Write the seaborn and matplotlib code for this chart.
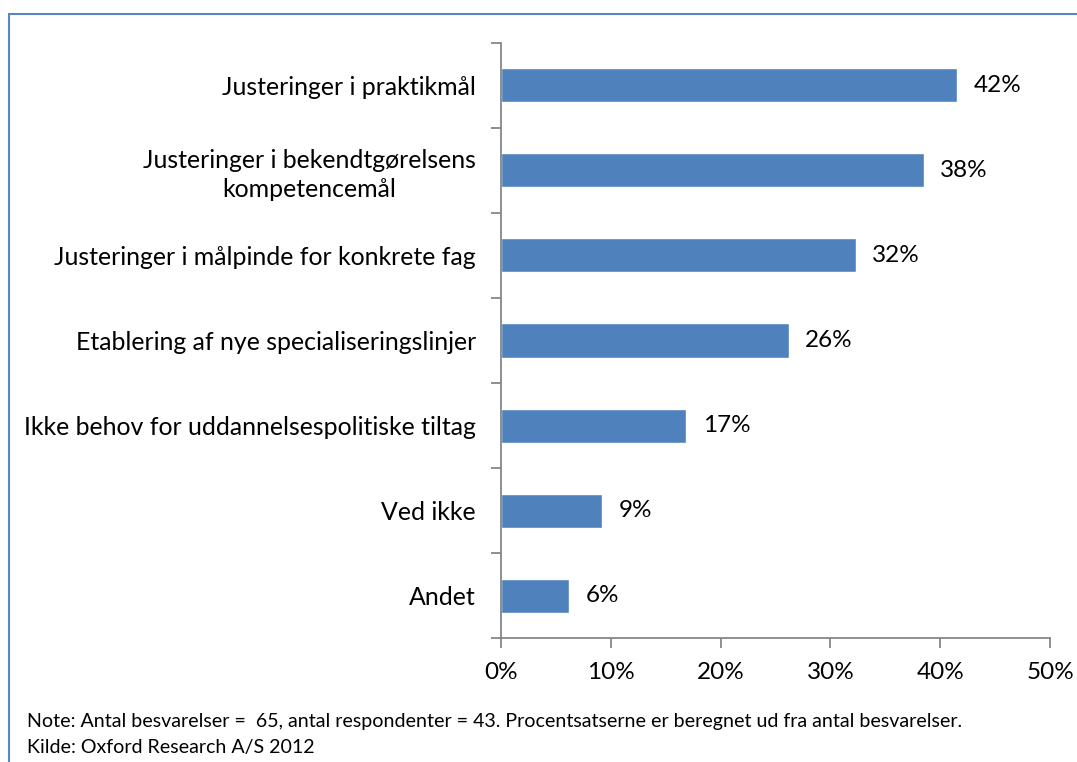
import matplotlib
matplotlib.use("Agg")
import matplotlib.pyplot as plt
import seaborn as sns
import pandas as pd
from matplotlib.lines import Line2D

# chart data
categories = [
    "Justeringer i praktikmål",
    "Justeringer i bekendtgørelsens\nkompetencemål",
    "Justeringer i målpinde for konkrete fag",
    "Etablering af nye specialiseringslinjer",
    "Ikke behov for uddannelsespolitiske tiltag",
    "Ved ikke",
    "Andet",
]
shares = [41.5, 38.5, 32.3, 26.2, 16.9, 9.2, 6.2]
value_labels = ["42%", "38%", "32%", "26%", "17%", "9%", "6%"]
x_ticks = [0, 10, 20, 30, 40, 50]
x_tick_labels = ["0%", "10%", "20%", "30%", "40%", "50%"]
note_lines = [
    "Note: Antal besvarelser =  65, antal respondenter = 43. Procentsatserne er beregnet ud fra antal besvarelser.",
    "Kilde: Oxford Research A/S 2012",
]

sns.set_style("white")
plt.rcParams["font.family"] = ["Lato", "DejaVu Sans"]
plt.rcParams["text.color"] = "black"
plt.rcParams["xtick.color"] = "black"
plt.rcParams["ytick.color"] = "black"

df = pd.DataFrame({"kategori": categories, "andel": shares})

fig = plt.figure(figsize=(10.77, 7.62), dpi=100)
ax = fig.add_axes([0.465, 0.1627, 0.975 - 0.465, 0.9436 - 0.1627])

sns.barplot(data=df, x="andel", y="kategori", orient="h", color="#4F81BD",
            saturation=1, width=0.4, ax=ax)

ax.set_xlim(0, 50)
ax.set_ylim(len(categories) - 0.5, -0.5)
ax.set_xticks(x_ticks)
ax.set_xticklabels(x_tick_labels)
ax.set_xlabel("")
ax.set_ylabel("")

# value labels
ax.bar_label(ax.containers[0], labels=value_labels, padding=12, fontsize=17.5, color="black")

# axis styling like Excel
for side in ["top", "right"]:
    ax.spines[side].set_visible(False)
for side in ["left", "bottom"]:
    ax.spines[side].set_color("#868686")
    ax.spines[side].set_linewidth(1.3)

ax.set_yticks([i - 0.5 for i in range(len(categories) + 1)], minor=True)
ax.tick_params(axis="y", which="minor", length=7, width=1.3, color="#868686", left=True)
ax.tick_params(axis="y", which="major", length=0, pad=18, labelsize=17.9, labelcolor="black")
ax.tick_params(axis="x", which="major", length=7, width=1.3, color="#868686",
               bottom=True, pad=10, labelsize=17.5, labelcolor="black")
for lbl in ax.get_yticklabels():
    lbl.set_horizontalalignment("right")
    lbl.set_multialignment("center")
    lbl.set_linespacing(1.3)
ax.grid(False)

# note text
fig.text(27 / 1077, 1 - 721 / 762, note_lines[0], fontsize=14.1, va="center", ha="left")
fig.text(27 / 1077, 1 - 747 / 762, note_lines[1], fontsize=14.1, va="center", ha="left")

# frame border (top and left visible)
fig.add_artist(Line2D([8.5 / 1077, 8.5 / 1077], [0, 1 - 13.5 / 762],
                      transform=fig.transFigure, color="#5B84C4", lw=1.5))
fig.add_artist(Line2D([8.5 / 1077, 1], [1 - 13.5 / 762, 1 - 13.5 / 762],
                      transform=fig.transFigure, color="#5B84C4", lw=1.5))

fig.savefig("out.png", dpi=100)
